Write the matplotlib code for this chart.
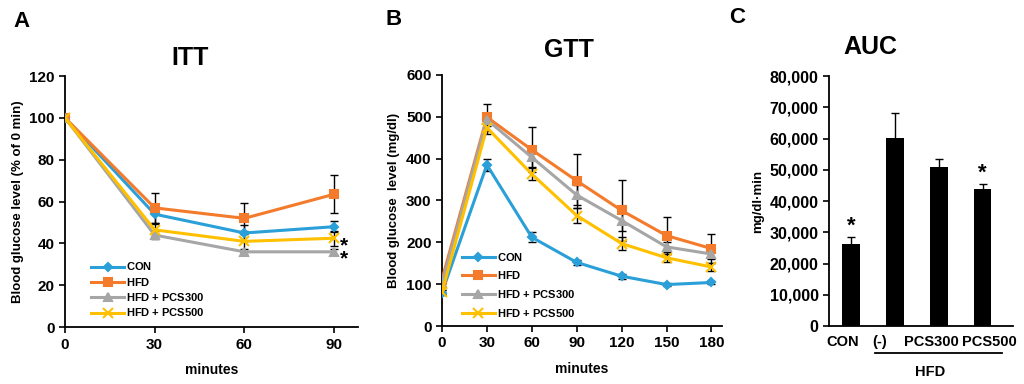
import matplotlib
matplotlib.use("Agg")
import matplotlib.pyplot as plt
import numpy as np

plt.rcParams['font.family'] = ['Liberation Sans', 'DejaVu Sans']
plt.rcParams['font.weight'] = 'bold'
plt.rcParams['mathtext.fontset'] = 'custom'
plt.rcParams['mathtext.rm'] = 'Liberation Sans'
plt.rcParams['mathtext.bf'] = 'Liberation Sans:bold'

# ITT data (% of 0 min)
itt_time = [0, 30, 60, 90]
itt_con = [100, 54, 45, 48]
itt_con_err = [0, 4, 4, 2.5]
itt_hfd = [100, 57, 52, 63.5]
itt_hfd_err = [0, 7, 7.5, 9]
itt_pcs300 = [100, 44, 36, 36]
itt_pcs300_err = [0, 2, 1.5, 1.5]
itt_pcs500 = [100, 46.5, 41, 42.5]
itt_pcs500_err = [0, 3, 5, 3.5]

# GTT data (mg/dl)
gtt_time = [0, 30, 60, 90, 120, 150, 180]
gtt_con = [80, 385, 212, 152, 119, 99, 104]
gtt_con_err = [5, 15, 12, 6, 6, 4, 4]
gtt_hfd = [111, 499, 421, 347, 276, 216, 185]
gtt_hfd_err = [5, 32, 54, 64, 73, 45, 34]
gtt_pcs300 = [101, 493, 403, 313, 252, 189, 172]
gtt_pcs300_err = [5, 14, 22, 25, 25, 12, 12]
gtt_pcs500 = [81, 474, 363, 264, 197, 163, 141]
gtt_pcs500_err = [5, 15, 15, 17, 15, 10, 10]

# AUC data
auc_groups = ['CON', '(-)', 'PCS300', 'PCS500']
auc_values = [26100, 60200, 51000, 43700]
auc_err = [2300, 8100, 2400, 1600]
auc_label_pos = [-0.18, 0.66, 1.83, 3.15]

colors = {'CON': '#2A9FD8', 'HFD': '#F47A2C', 'PCS300': '#A6A6A6', 'PCS500': '#FFC000'}
labels = [r'$\mathbf{CON}$', r'$\mathbf{HFD}$', r'$\mathbf{HFD}$ + PCS300', r'$\mathbf{HFD}$ + PCS500']

fig = plt.figure(figsize=(10.24, 3.84), dpi=100)


def style_axes(ax, size=11):
    for s in ['top', 'right']:
        ax.spines[s].set_visible(False)
    for s in ['left', 'bottom']:
        ax.spines[s].set_linewidth(1.3)
    ax.tick_params(direction='out', length=4, width=1.2, labelsize=size)
    for lab in ax.get_xticklabels() + ax.get_yticklabels():
        lab.set_fontweight('bold')


def draw_lines(ax, t, series):
    markers = ['D', 's', '^', 'x']
    sizes = [4, 6, 6, 7]
    for (vals, errs, key), m, ms, lab in zip(series, markers, sizes, labels):
        ax.errorbar(t, vals, yerr=errs, fmt='none', ecolor='black', elinewidth=1,
                    capsize=3, capthick=1, zorder=2)
        ax.plot(t, vals, color=colors[key], lw=2.2, marker=m, ms=ms, mew=1.5,
                label=lab, zorder=3)


# ---- Panel A: ITT
axA = fig.add_axes([0.0635, 0.148, 0.286, 0.654])
draw_lines(axA, itt_time, [(itt_con, itt_con_err, 'CON'), (itt_hfd, itt_hfd_err, 'HFD'),
                           (itt_pcs300, itt_pcs300_err, 'PCS300'), (itt_pcs500, itt_pcs500_err, 'PCS500')])
axA.set_xlim(0, 98)
axA.set_ylim(0, 120)
axA.set_xticks(itt_time)
axA.set_yticks(np.arange(0, 121, 20))
style_axes(axA)
axA.set_xlabel('minutes', fontsize=10, fontweight='bold', labelpad=8)
axA.set_ylabel('Blood glucose level (% of 0 min)', fontsize=9.5, fontweight='bold', labelpad=4)
# significance marks for the two PCS groups at 90 min
axA.text(itt_time[3] + 2, (itt_pcs500[3] + itt_pcs300[3]) / 2 - 3.5, '*\n*', fontsize=15,
         fontweight='bold', va='center', ha='left', linespacing=0.6)
axA.legend(loc='lower left', bbox_to_anchor=(0.055, -0.005), frameon=False, fontsize=8,
           handlelength=3.0, handletextpad=0.15, labelspacing=0.3)

# ---- Panel B: GTT
axB = fig.add_axes([0.4316, 0.151, 0.273, 0.654])
draw_lines(axB, gtt_time, [(gtt_con, gtt_con_err, 'CON'), (gtt_hfd, gtt_hfd_err, 'HFD'),
                           (gtt_pcs300, gtt_pcs300_err, 'PCS300'), (gtt_pcs500, gtt_pcs500_err, 'PCS500')])
axB.set_xlim(0, 186.7)
axB.set_ylim(0, 600)
axB.set_xticks(gtt_time)
axB.set_yticks(np.arange(0, 601, 100))
style_axes(axB)
axB.set_xlabel('minutes', fontsize=10, fontweight='bold', labelpad=8)
axB.set_ylabel('Blood glucose  level (mg/dl)', fontsize=9.5, fontweight='bold', labelpad=4)
axB.legend(loc='lower left', bbox_to_anchor=(0.035, -0.01), frameon=False, fontsize=8,
           handlelength=3.0, handletextpad=0.15, labelspacing=0.6)

# ---- Panel C: AUC
axC = fig.add_axes([0.8096, 0.151, 0.18, 0.651])
xpos = np.arange(len(auc_groups))
axC.bar(xpos, auc_values, width=0.4, color='black', yerr=auc_err,
        error_kw=dict(ecolor='black', elinewidth=1, capsize=3, capthick=1))
axC.set_xlim(-0.5, 3.7)
axC.set_ylim(0, 80000)
axC.set_yticks(np.arange(0, 80001, 10000))
axC.set_yticklabels([f'{v:,}' for v in range(0, 80001, 10000)])
axC.set_xticks([])
style_axes(axC, size=11.5)
axC.set_ylabel('mg/dl·min', fontsize=9.5, fontweight='bold', labelpad=4)
xtr = axC.get_xaxis_transform()
for name, px in zip(auc_groups, auc_label_pos):
    axC.text(px, -0.064, name, transform=xtr, ha='center', va='center',
             fontsize=10.5, fontweight='bold')
for i in [0, 3]:
    axC.text(xpos[i], auc_values[i] + auc_err[i] + 300, '*', ha='center', va='bottom',
             fontsize=16, fontweight='bold')
axC.plot([0.55, 3.45], [-0.108, -0.108], transform=xtr, color='black',
         lw=1.3, clip_on=False)
axC.text(1.8, -0.184, 'HFD', transform=xtr, ha='center', va='center',
         fontsize=10.5, fontweight='bold')

# titles and panel letters
fig.text(0.186, 0.85, 'ITT', fontsize=18, fontweight='bold', ha='center', va='center')
fig.text(0.556, 0.87, 'GTT', fontsize=18, fontweight='bold', ha='center', va='center')
fig.text(0.850, 0.878, 'AUC', fontsize=18, fontweight='bold', ha='center', va='center')
fig.text(0.021, 0.943, 'A', fontsize=16, fontweight='bold', ha='center', va='center')
fig.text(0.384, 0.948, 'B', fontsize=16, fontweight='bold', ha='center', va='center')
fig.text(0.720, 0.955, 'C', fontsize=16, fontweight='bold', ha='center', va='center')

fig.savefig('out.png', dpi=100)
